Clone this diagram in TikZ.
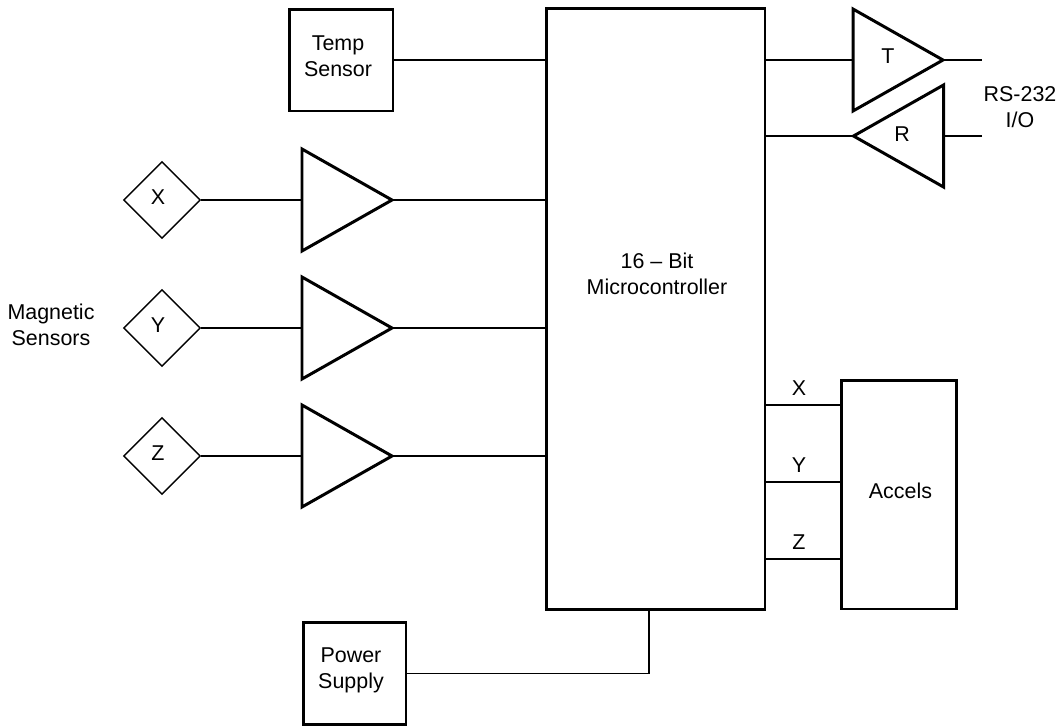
\documentclass[tikz,border=0pt]{standalone}
\usepackage{fontspec}
\setmainfont{Liberation Sans}
\usetikzlibrary{shapes.geometric}
\tikzset{
	wire/.style={line width=.8pt},
	heavy/.style={draw,line width=1.7pt,inner sep=0pt},
	amp/.style={draw,line width=1.7pt,isosceles triangle,isosceles triangle stretches,inner sep=0pt,outer sep=0pt,anchor=lower side,minimum width=2.04cm,minimum height=1.8cm},
	sensor/.style={draw,line width=.8pt,diamond,inner sep=0pt,minimum width=1.54cm,minimum height=1.54cm},
	lbl/.style={align=center,inner sep=0pt,font=\fontsize{12.2}{14.7}\selectfont}
}
\begin{document}
\begin{tikzpicture}[x=.02cm,y=-.02cm]
	\useasboundingbox (0,0) rectangle (1060,725);
	
	\node [heavy,minimum width=4.38cm,minimum height=12.04cm] (mcu) at (655.5,309) {}; \node [lbl] (mcul) at (657,274) {16 -- Bit\\Microcontroller};
	\node [heavy,minimum width=2.08cm,minimum height=2.04cm] (temp) at (341,60) {}; \node [lbl] (templ) at (338,56.5) {Temp\\Sensor};
	\draw [wire] (temp) -- (temp -| mcu.west);
	\node [heavy,minimum width=2.06cm,minimum height=2.04cm] (pwr) at (354.5,673.5) {}; \node [lbl] (pwrl) at (351,670) {Power\\Supply};
	\coordinate (tap) at (649,610); \draw [wire] (pwr) -| (tap);
	
	\node [sensor] (senx) at (162,200) {}; \node [lbl] (senxl) at (158,197) {X};
	\node [amp] (ampx) at (302,200) {}; \draw [wire] (senx) -- (ampx.lower side); \draw [wire] (ampx.apex) -- (ampx.apex -| mcu.west);
	\node [sensor] (seny) at (162,328) {}; \node [lbl] (senyl) at (158,325) {Y};
	\node [amp] (ampy) at (302,328) {}; \draw [wire] (seny) -- (ampy.lower side); \draw [wire] (ampy.apex) -- (ampy.apex -| mcu.west);
	\node [sensor] (senz) at (162,456) {}; \node [lbl] (senzl) at (158,453) {Z};
	\node [amp] (ampz) at (302,456) {}; \draw [wire] (senz) -- (ampz.lower side); \draw [wire] (ampz.apex) -- (ampz.apex -| mcu.west);
	\node [lbl] (mag) at (51,325) {Magnetic\\Sensors};
	
	\node [amp] (tx) at (853,60) {}; \node [lbl] (txl) at (888,56) {T};
	\draw [wire] (tx.lower side -| mcu.east) -- (tx.lower side);
	\coordinate (txout) at (982,60); \draw [wire] (tx.apex) -- (txout);
	\node [amp,shape border rotate=180] (rx) at (943.5,136) {}; \node [lbl] (rxl) at (902,134) {R};
	\draw [wire] (rx.apex) -- (rx.apex -| mcu.east);
	\coordinate (rxin) at (982,136); \draw [wire] (rxin) -- (rx.lower side);
	\node [lbl] (rs) at (1020,107) {RS-232\\I/O};
	
	\node [heavy,minimum width=2.3cm,minimum height=4.58cm] (acc) at (898.5,494.5) {}; \node [lbl] (accl) at (900.5,490.5) {Accels};
	\coordinate (accx) at (841,405); \draw [wire] (accx -| mcu.east) -- (accx); \node [lbl] (accxl) at (799,388) {X};
	\coordinate (accy) at (841,482); \draw [wire] (accy -| mcu.east) -- (accy); \node [lbl] (accyl) at (799,465) {Y};
	\coordinate (accz) at (841,559); \draw [wire] (accz -| mcu.east) -- (accz); \node [lbl] (acczl) at (799,542) {Z};
\end{tikzpicture}
\end{document}
